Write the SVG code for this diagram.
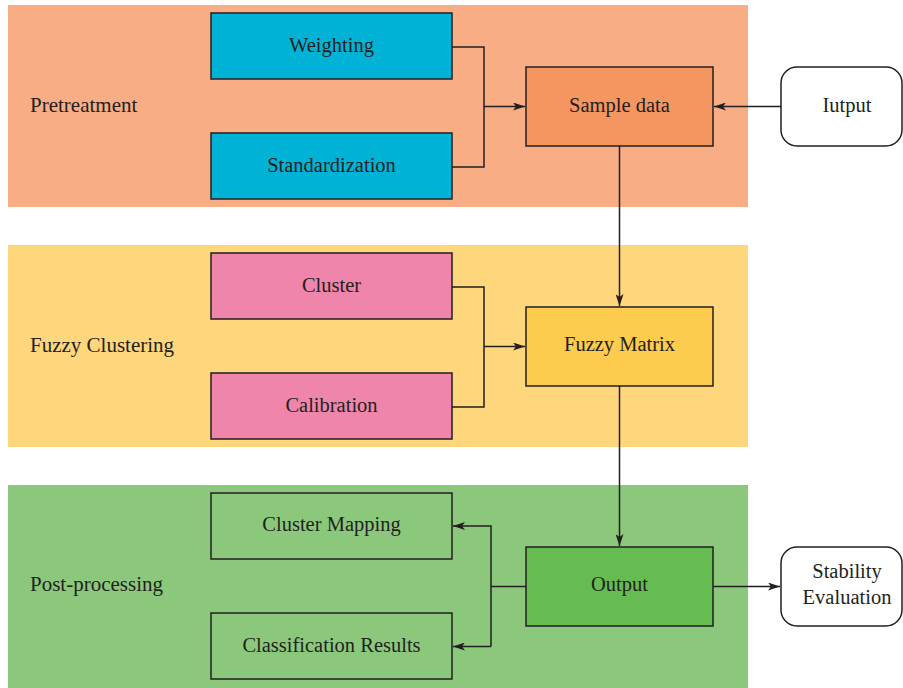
<svg xmlns="http://www.w3.org/2000/svg" width="903" height="688" viewBox="0 0 903 688">
<style>
text{font-family:"Liberation Serif","DejaVu Serif",serif;font-size:20.5px;fill:#231F20;text-anchor:middle;dominant-baseline:central}
.lbl{text-anchor:start;font-size:21px}
.box{stroke:#231F20;stroke-width:1.5}
.term{fill:#fff;stroke:#231F20;stroke-width:1.5}
.con{fill:none;stroke:#231F20;stroke-width:1.5}
</style>
<defs>
<marker id="ah" markerWidth="12" markerHeight="8" refX="12" refY="4" orient="auto" markerUnits="userSpaceOnUse">
<path d="M0,0 L12,4 L0,8 L3,4 Z" fill="#231F20"/>
</marker>
</defs>
<g id="panels">
<rect x="8" y="5" width="740" height="202" fill="#F8AD84"/>
<rect x="8" y="245" width="740" height="202" fill="#FED67C"/>
<rect x="8" y="485" width="740" height="203" fill="#8BC87C"/>
<text class="lbl" x="30" y="105">Pretreatment</text>
<text class="lbl" x="30" y="345">Fuzzy Clustering</text>
<text class="lbl" x="30" y="584">Post-processing</text>
</g>
<g id="weighting"><rect class="box" x="211" y="13" width="241" height="66" fill="#00B2D6"/><text x="331.5" y="45">Weighting</text></g>
<g id="standardization"><rect class="box" x="211" y="133" width="241" height="66" fill="#00B2D6"/><text x="331.5" y="165">Standardization</text></g>
<g id="sample"><rect class="box" x="526" y="67" width="187" height="79" fill="#F5955F"/><text x="619.5" y="105">Sample data</text></g>
<g id="iutput"><rect class="term" x="781" y="67" width="121" height="79" rx="16"/><text x="847" y="105">Iutput</text></g>
<g id="cluster"><rect class="box" x="211" y="253" width="241" height="66" fill="#F085AC"/><text x="331.5" y="285">Cluster</text></g>
<g id="calibration"><rect class="box" x="211" y="373" width="241" height="66" fill="#F085AC"/><text x="331.5" y="405">Calibration</text></g>
<g id="fuzzy"><rect class="box" x="526" y="307" width="187" height="79" fill="#FDCB4D"/><text x="619.5" y="344">Fuzzy Matrix</text></g>
<g id="mapping"><rect class="box" x="211" y="493" width="241" height="66" fill="#8BC87C"/><text x="331.5" y="524">Cluster Mapping</text></g>
<g id="results"><rect class="box" x="211" y="613" width="241" height="66" fill="#8BC87C"/><text x="331.5" y="645">Classification Results</text></g>
<g id="output"><rect class="box" x="526" y="547" width="187" height="79" fill="#66BC50"/><text x="619.5" y="584">Output</text></g>
<g id="stability"><rect class="term" x="781" y="547" width="121" height="79" rx="16"/><text x="847" y="571">Stability</text><text x="847" y="597">Evaluation</text></g>
<g id="connectors">
<path class="con" d="M452,47 H484 V167 H452"/>
<path class="con" d="M484,106.5 H525" marker-end="url(#ah)"/>
<path class="con" d="M781,106.5 H714" marker-end="url(#ah)"/>
<path class="con" d="M619.5,146 V306" marker-end="url(#ah)"/>
<path class="con" d="M452,287 H484 V407 H452"/>
<path class="con" d="M484,346.5 H525" marker-end="url(#ah)"/>
<path class="con" d="M619.5,386 V546" marker-end="url(#ah)"/>
<path class="con" d="M526,586.5 H491"/>
<path class="con" d="M491,646.5 V526 H453" marker-end="url(#ah)"/>
<path class="con" d="M491,646.5 H453" marker-end="url(#ah)"/>
<path class="con" d="M713,586.5 H780" marker-end="url(#ah)"/>
</g>
</svg>
